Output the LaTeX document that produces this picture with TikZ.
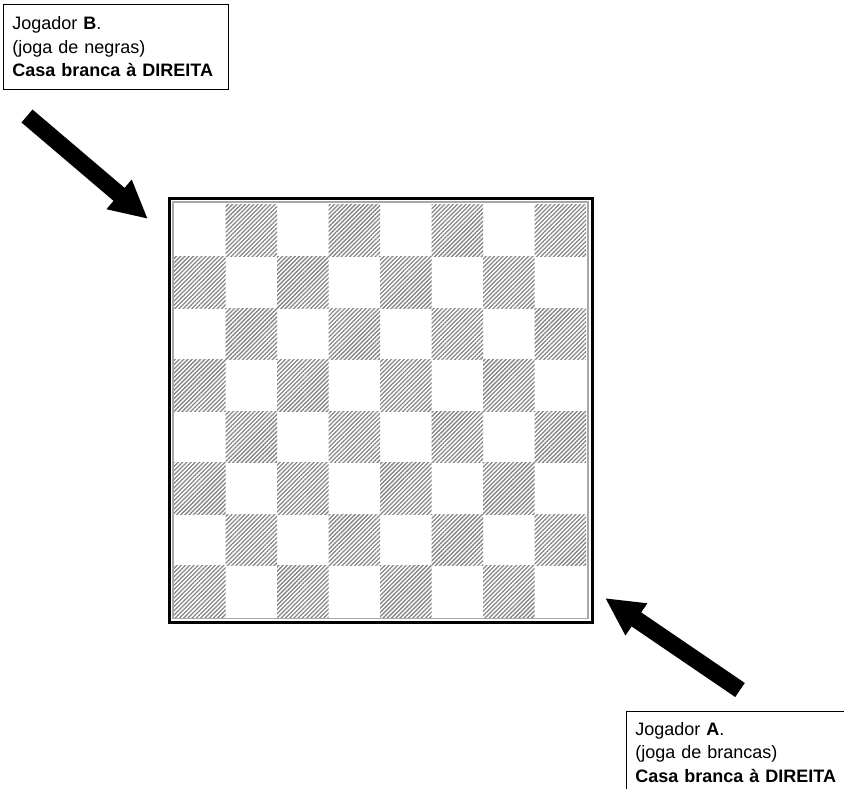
\documentclass[tikz,border=0pt]{standalone}
\usepackage{fontspec}
\setmainfont{Liberation Sans}
\usetikzlibrary{arrows.meta,patterns.meta}
\definecolor{hatch}{HTML}{858585}
\definecolor{rim}{HTML}{A8A8A8}

\tikzset{
  infobox/.style={draw, line width=0.8pt, anchor=north west, align=left,
    inner xsep=9pt, inner ysep=11pt, font=\fontsize{18}{23.5}\selectfont},
  bigarrow/.style={line width=17pt, -{Triangle[length=38pt,width=36pt]}},
  darksq/.style={pattern={Lines[angle=45,distance=3pt,line width=1.3pt]},
    pattern color=hatch}
}

\begin{document}
\begin{tikzpicture}[x=1pt,y=-1pt]
  \useasboundingbox (0,0) rectangle (844,789);
  \clip (0,0) rectangle (844,789);
  \foreach \r in {0,...,7} {
    \foreach \k in {0,...,3} {
      \pgfmathtruncatemacro{\c}{2*\k+1-mod(\r,2)}
      \fill[darksq] (174+\c*51.5,205+\r*51.5) rectangle +(51.5,51.5);
    }
  }
  \draw[rim, line width=1.5pt] (173,202) rectangle (588,618.5);
  \draw[line width=3pt] (169.5,198.5) rectangle (592,622);

  \node[infobox, text width=207pt, minimum height=85pt] (jogB) at (3,4)
    {Jogador \textbf{B}.\\(joga de negras)\\\textbf{Casa branca à DIREITA}};
  \node[infobox, text width=230pt] (jogA) at (626,711)
    {Jogador \textbf{A}.\\(joga de brancas)\\\textbf{Casa branca à DIREITA}};

  \coordinate (tailB) at (27,116);
  \coordinate (tipB) at (148,219);
  \coordinate (tailA) at (740,690);
  \coordinate (tipA) at (605,598);
  \draw[bigarrow] (tailB) -- (tipB);
  \draw[bigarrow] (tailA) -- (tipA);
\end{tikzpicture}
\end{document}
